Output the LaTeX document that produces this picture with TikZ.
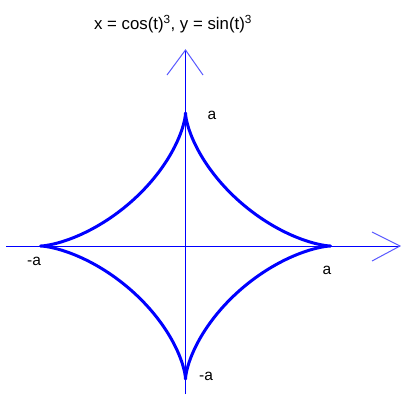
\documentclass[tikz,border=0pt]{standalone}
\usepackage{fontspec}
\setmainfont{Liberation Sans}
\begin{document}
\begin{tikzpicture}[x=1pt,y=-1pt,
  axisline/.style={draw=blue, line width=1pt},
  wing/.style={draw=blue!65, line width=1pt},
  curve/.style={draw=blue, line width=3pt, line join=round},
  lbl/.style={font=\fontsize{15.5}{17}\selectfont, inner sep=0pt, anchor=center},
  ttl/.style={font=\fontsize{16.8}{19}\selectfont, inner sep=0pt, anchor=center}]
\useasboundingbox (0,0) rectangle (401,394);
\fill[white] (0,0) rectangle (401,394);
% axes
\coordinate (O) at (185.5,246);
\coordinate (xl) at (6,246);
\coordinate (xr) at (400,246);
\coordinate (yb) at (185.5,394);
\coordinate (yt) at (185.5,50);
\coordinate (xw1) at (372,232);
\coordinate (xw2) at (372,261);
\coordinate (yw1) at (167,75);
\coordinate (yw2) at (203,75);
\draw[axisline] (xl) -- (xr);
\draw[axisline] (yb) -- (yt);
\draw[wing] (xw1) -- (xr) -- (xw2);
\draw[wing] (yw1) -- (yt) -- (yw2);
% astroid
\draw[curve] plot[domain=0:360, samples=361, variable=\t]
  ({185.5+145*cos(\t)*cos(\t)*cos(\t)},{246-133*sin(\t)*sin(\t)*sin(\t)}) -- cycle;
% labels
\node[ttl] (title) at (173,24) {x = cos(t)\textsuperscript{3}, y = sin(t)\textsuperscript{3}};
\node[lbl] (atop) at (212,115) {a};
\node[lbl] (aright) at (327,270) {a};
\node[lbl] (aleft) at (34,261) {-a};
\node[lbl] (abot) at (206,376) {-a};
\end{tikzpicture}
\end{document}
